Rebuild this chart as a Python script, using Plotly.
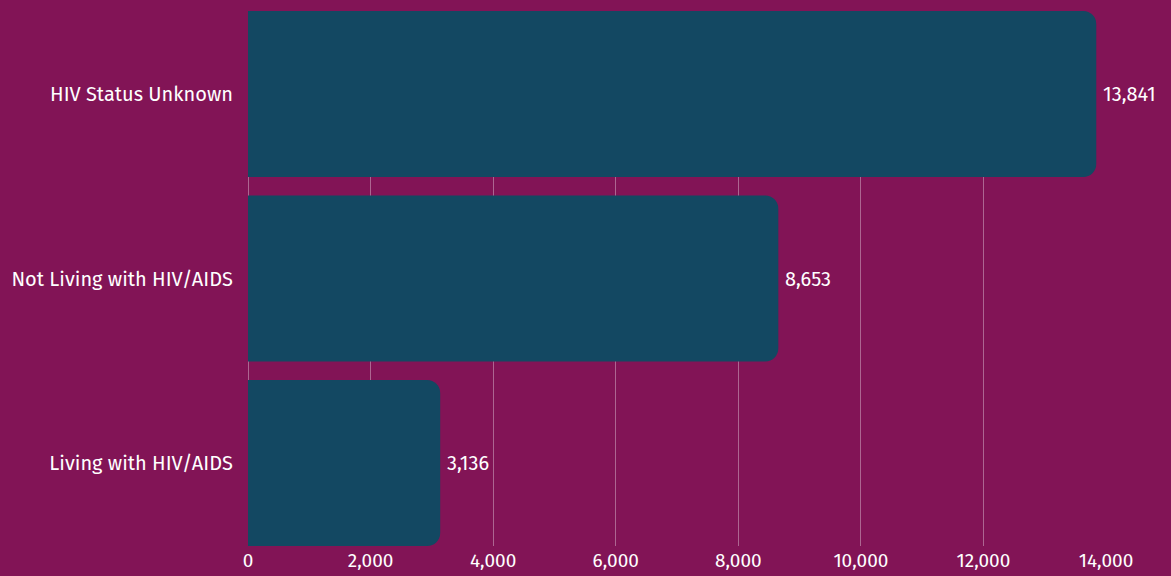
import plotly.graph_objects as go

categories = ["Living with HIV/AIDS", "Not Living with HIV/AIDS", "HIV Status Unknown"]
values = [3136, 8653, 13841]
x_ticks = [0, 2000, 4000, 6000, 8000, 10000, 12000, 14000]
x_tick_labels = ["0", "2,000", "4,000", "6,000", "8,000", "10,000", "12,000", "14,000"]

BG = "#821456"
BAR = "#134862"
GRID = "rgba(255,255,255,0.35)"
FONT = "Fira Sans, Lato, sans-serif"

ypos = list(range(len(categories)))

fig = go.Figure(
    go.Bar(
        x=values,
        y=ypos,
        orientation="h",
        width=0.9,
        marker=dict(color=BAR, line=dict(width=0)),
        hoverinfo="skip",
    )
)

for v, yy in zip(values, ypos):
    fig.add_annotation(
        x=v, y=yy, text=f"{v:,}", showarrow=False,
        xanchor="left", yanchor="middle", xshift=5,
        font=dict(color="white", size=20, family=FONT),
    )

fig.update_layout(
    width=1171,
    height=576,
    paper_bgcolor=BG,
    plot_bgcolor=BG,
    margin=dict(l=248, r=65, t=11, b=30, autoexpand=False),
    barcornerradius=13,
    showlegend=False,
    font=dict(family=FONT, color="white"),
)

fig.update_xaxes(
    range=[0, 14000],
    tickvals=x_ticks,
    ticktext=x_tick_labels,
    showgrid=True,
    gridcolor=GRID,
    gridwidth=1,
    zeroline=True,
    zerolinecolor=GRID,
    zerolinewidth=1,
    showline=False,
    ticks="",
    ticklabelstandoff=1,
    automargin=False,
    tickfont=dict(size=19, color="white", family=FONT),
    fixedrange=True,
)

fig.update_yaxes(
    range=[-0.45, 2.45],
    tickvals=ypos,
    ticktext=categories,
    showgrid=False,
    zeroline=False,
    showline=False,
    ticks="",
    ticklabelstandoff=14,
    automargin=False,
    tickfont=dict(size=20, color="white", family=FONT),
    fixedrange=True,
)

fig.write_html(
    "out.html",
    config={"displayModeBar": False},
    post_script="document.body.style.margin='0';document.body.style.background='" + BG + "';",
)
